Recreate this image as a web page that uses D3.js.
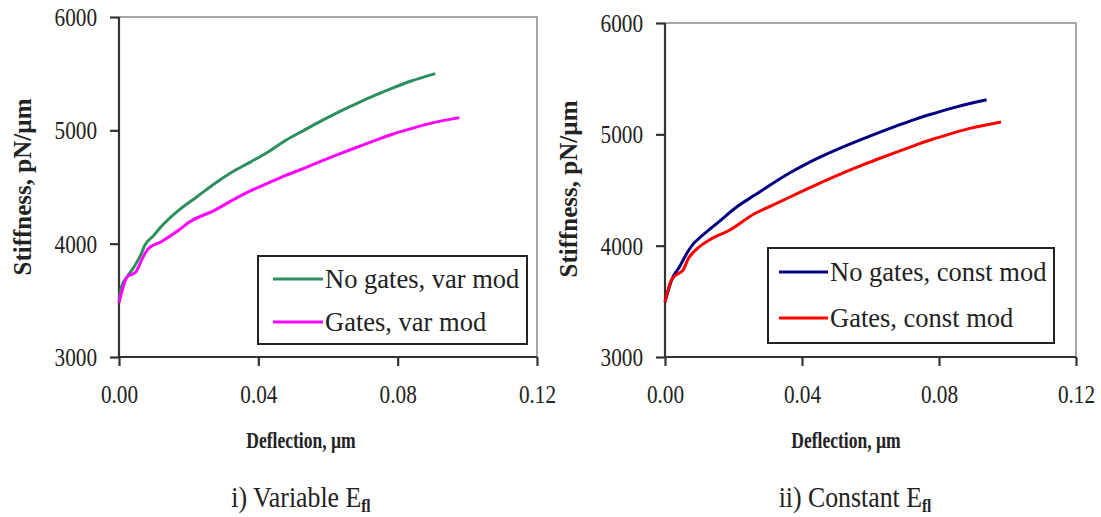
<!DOCTYPE html>
<html>
<head>
<meta charset="utf-8">
<script src="https://cdn.jsdelivr.net/npm/d3@7"></script>
<style>
  html, body { margin: 0; padding: 0; background: #fff; }
  svg { display: block; }
  text { font-family: "Liberation Serif", "Times New Roman", serif; fill: #222; }
</style>
</head>
<body>
<svg id="chart" width="1101" height="517"></svg>
<script>
// ---------- data ----------
const xTicks = [0.00, 0.04, 0.08, 0.12];
const yTicks = [3000, 4000, 5000, 6000];

// Panel i) Variable E
const defNoGatesVar = [0, 0.0007, 0.0023, 0.0043, 0.0064, 0.0074, 0.0100, 0.0120, 0.0171, 0.0223, 0.0274, 0.0325, 0.0377, 0.0428, 0.0479, 0.0531, 0.0582, 0.0633, 0.0685, 0.0736, 0.0787, 0.0839, 0.0908];
const stfNoGatesVar = [3480, 3618, 3706, 3794, 3912, 3985, 4073, 4147, 4294, 4412, 4529, 4632, 4720, 4809, 4912, 5000, 5085, 5165, 5240, 5310, 5375, 5435, 5500];

const defGatesVar = [0, 0.0012, 0.0023, 0.0048, 0.0069, 0.0084, 0.0120, 0.0171, 0.0202, 0.0274, 0.0325, 0.0377, 0.0428, 0.0479, 0.0531, 0.0582, 0.0633, 0.0685, 0.0736, 0.0787, 0.0839, 0.0890, 0.0977];
const stfGatesVar = [3480, 3618, 3706, 3750, 3882, 3956, 4015, 4118, 4191, 4294, 4382, 4465, 4535, 4603, 4665, 4730, 4792, 4853, 4912, 4968, 5015, 5059, 5112];

// Panel ii) Constant E
const defNoGatesConst = [0, 0.0021, 0.0042, 0.0063, 0.0083, 0.0104, 0.0157, 0.0209, 0.0261, 0.0313, 0.0365, 0.0417, 0.0470, 0.0522, 0.0574, 0.0626, 0.0678, 0.0730, 0.0783, 0.0835, 0.0887, 0.0939];
const stfNoGatesConst = [3494, 3704, 3808, 3928, 4018, 4078, 4213, 4347, 4452, 4557, 4655, 4742, 4820, 4890, 4955, 5018, 5078, 5135, 5186, 5233, 5275, 5311];

const defGatesConst = [0, 0.0016, 0.0031, 0.0052, 0.0068, 0.0094, 0.0136, 0.0188, 0.0261, 0.0313, 0.0365, 0.0417, 0.0470, 0.0522, 0.0574, 0.0626, 0.0678, 0.0730, 0.0783, 0.0835, 0.0887, 0.0981];
const stfGatesConst = [3494, 3674, 3734, 3778, 3883, 3973, 4063, 4138, 4287, 4362, 4437, 4512, 4587, 4657, 4722, 4783, 4843, 4901, 4958, 5006, 5051, 5111];

const legendLeft = ["No gates, var mod", "Gates, var mod"];
const legendRight = ["No gates, const mod", "Gates, const mod"];
const yAxisTitle = "Stiffness, pN/\u00b5m";
const xAxisTitle = "Deflection, \u00b5m";

// ---------- drawing ----------
const svg = d3.select("#chart");

const panels = [
  {
    box: {l: 119, r: 537, t: 17, b: 357},
    series: [
      {x: defNoGatesVar, y: stfNoGatesVar, color: "#2e8f5e", name: legendLeft[0]},
      {x: defGatesVar, y: stfGatesVar, color: "#ff00ff", name: legendLeft[1]}
    ],
    legend: {l: 258, r: 527, t: 256, b: 344, lx0: 273, lx1: 323, tx: 325, rows: [279, 322]},
    yTitle: {x: 22, y: 187},
    xTitle: {x: 301, y: 448},
    title: {x: 301, y: 507, main: "i) Variable E", sub: "fl"}
  },
  {
    box: {l: 665, r: 1076, t: 23, b: 357},
    series: [
      {x: defNoGatesConst, y: stfNoGatesConst, color: "#000080", name: legendRight[0]},
      {x: defGatesConst, y: stfGatesConst, color: "#ff0000", name: legendRight[1]}
    ],
    legend: {l: 768, r: 1054, t: 248, b: 343, lx0: 779, lx1: 828, tx: 830, rows: [272, 318]},
    yTitle: {x: 568, y: 189},
    xTitle: {x: 846, y: 448},
    title: {x: 855, y: 507, main: "ii) Constant E", sub: "fl"}
  }
];

const tickSX = 0.85;

panels.forEach(p => {
  const b = p.box;
  const x = d3.scaleLinear().domain([0, 0.12]).range([b.l, b.r]);
  const y = d3.scaleLinear().domain([3000, 6000]).range([b.b, b.t]);
  const g = svg.append("g");

  // light gray top/right frame
  g.append("path")
    .attr("d", `M${b.l},${b.t}H${b.r}V${b.b}`)
    .attr("fill", "none").attr("stroke", "#a6a6a6").attr("stroke-width", 2);

  // axes
  const yAxis = d3.axisLeft(y).tickValues(yTicks).tickFormat(d3.format("d")).tickSize(9).tickPadding(13);
  const gy = g.append("g").attr("transform", `translate(${b.l},0)`).call(yAxis);
  const xAxis = d3.axisBottom(x).tickValues(xTicks).tickFormat(d3.format(".2f")).tickSize(9).tickPadding(10);
  const gx = g.append("g").attr("transform", `translate(0,${b.b})`).call(xAxis);

  [gx, gy].forEach(a => {
    a.select(".domain").attr("stroke", "#333").attr("stroke-width", 2.2);
    a.selectAll(".tick line").attr("stroke", "#333").attr("stroke-width", 2.2);
    a.selectAll(".tick text").attr("font-family", "Liberation Serif, serif").attr("font-size", 25).attr("fill", "#222");
  });
  gy.select(".domain").attr("d", `M0,${b.t}V${b.b}`);
  gx.select(".domain").attr("d", `M${b.l},0H${b.r}`);
  gx.selectAll(".tick text").attr("y", 0).attr("dy", 0)
    .attr("transform", `translate(0,46) scale(${tickSX},1)`);
  gy.selectAll(".tick text").attr("x", 0).attr("dy", "0.34em")
    .attr("transform", `translate(-22,0) scale(${tickSX},1)`);

  // lines
  const line = d3.line().x(d => x(d[0])).y(d => y(d[1])).curve(d3.curveMonotoneX);
  p.series.forEach(s => {
    g.append("path")
      .datum(s.x.map((v, i) => [v, s.y[i]]))
      .attr("d", line)
      .attr("fill", "none")
      .attr("stroke", s.color)
      .attr("stroke-width", 3)
      .attr("stroke-linejoin", "round");
  });

  // legend
  const L = p.legend;
  g.append("rect")
    .attr("x", L.l).attr("y", L.t).attr("width", L.r - L.l).attr("height", L.b - L.t)
    .attr("fill", "#fff").attr("stroke", "#222").attr("stroke-width", 2);
  p.series.forEach((s, i) => {
    g.append("line")
      .attr("x1", L.lx0).attr("x2", L.lx1).attr("y1", L.rows[i]).attr("y2", L.rows[i])
      .attr("stroke", s.color).attr("stroke-width", 3);
    g.append("text")
      .attr("x", L.tx).attr("y", L.rows[i] + 9)
      .attr("font-size", 26.5)
      .text(s.name);
  });

  // axis titles
  g.append("text")
    .attr("transform", `translate(${p.yTitle.x},${p.yTitle.y}) rotate(-90)`)
    .attr("text-anchor", "middle").attr("dy", "0.35em")
    .attr("font-weight", "bold").attr("font-size", 25)
    .text(yAxisTitle);
  g.append("text")
    .attr("transform", `translate(${p.xTitle.x},${p.xTitle.y}) scale(0.73,1)`)
    .attr("text-anchor", "middle")
    .attr("font-weight", "bold").attr("font-size", 24)
    .text(xAxisTitle);

  // panel title
  const t = g.append("text")
    .attr("transform", `translate(${p.title.x},${p.title.y}) scale(0.86,1)`)
    .attr("text-anchor", "middle")
    .attr("font-size", 30);
  t.append("tspan").text(p.title.main);
  t.append("tspan").attr("dy", 5).attr("font-size", 18).attr("font-weight", "bold").text(p.title.sub);
});
</script>
</body>
</html>
